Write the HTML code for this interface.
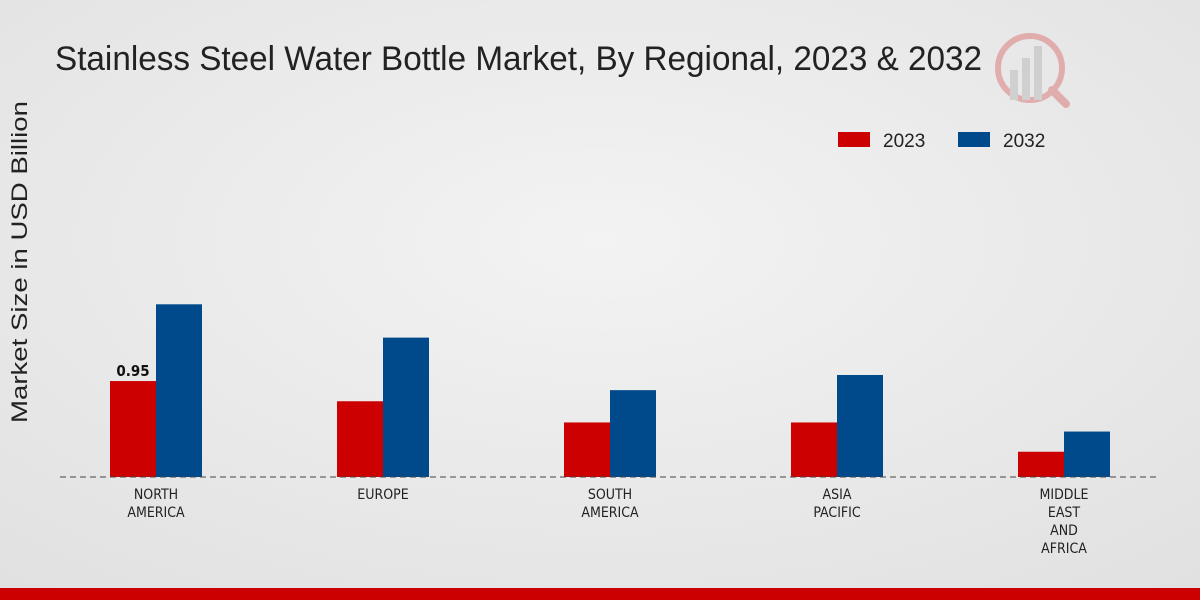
<!DOCTYPE html>
<html><head><meta charset="utf-8"><style>
body{margin:0;width:1200px;height:600px;overflow:hidden;font-family:"Liberation Sans","DejaVu Sans",sans-serif}
.tick{font-family:"DejaVu Sans Condensed","DejaVu Sans",sans-serif}
</style></head><body>
<svg id="chart" width="1200" height="600" xmlns="http://www.w3.org/2000/svg">
<defs><radialGradient id="bg" cx="0.5" cy="0.4" r="0.8"><stop offset="0" stop-color="#f3f3f3"/><stop offset="1" stop-color="#e0e0e0"/></radialGradient></defs>
<rect width="1200" height="600" fill="url(#bg)"/>
<rect x="0" y="588" width="1200" height="12" fill="#cc0000"/>
<text x="55" y="70" font-size="34" fill="#222" textLength="927" lengthAdjust="spacingAndGlyphs">Stainless Steel Water Bottle Market, By Regional, 2023 &amp; 2032</text>
<text transform="translate(27,262) rotate(-90)" text-anchor="middle" font-size="22" fill="#222" textLength="322" lengthAdjust="spacingAndGlyphs">Market Size in USD Billion</text>
<g opacity="0.25">
<circle cx="1030" cy="68" r="32" fill="none" stroke="#c00" stroke-width="6"/>
<rect x="1010" y="70" width="8" height="30" fill="#888"/><rect x="1022" y="58" width="8" height="42" fill="#888"/><rect x="1034" y="46" width="8" height="54" fill="#888"/>
<line x1="1052" y1="90" x2="1066" y2="104" stroke="#c00" stroke-width="8" stroke-linecap="round"/>
</g>
<g>
<rect x="838" y="132" width="32" height="15" fill="#cc0000"/>
<text x="883" y="147" font-size="19" fill="#222">2023</text>
<rect x="958" y="132" width="32" height="15" fill="#004a8c"/>
<text x="1003" y="147" font-size="19" fill="#222">2032</text>
</g>
<g id="marks"></g>
<line x1="60" y1="477" x2="1160" y2="477" stroke="#444" stroke-dasharray="6,4" stroke-width="1"/>
</svg>
<script>
const categories=[["NORTH","AMERICA"],["EUROPE"],["SOUTH","AMERICA"],["ASIA","PACIFIC"],["MIDDLE","EAST","AND","AFRICA"]];
const values2023=[0.95,0.75,0.54,0.54,0.25];
const values2032=[1.71,1.38,0.86,1.01,0.45];
const labelIndex=0;
const NS="http://www.w3.org/2000/svg";
const g=document.getElementById('marks');
const base=477, pxPer=101, x0=156, step=227, bw=46;
function xc(i){return x0+i*step;}
function yv(v){return base-v*pxPer;}
function mk(tag,attrs){const e=document.createElementNS(NS,tag);for(const k in attrs)e.setAttribute(k,attrs[k]);g.appendChild(e);return e;}
categories.forEach((c,i)=>{
  const r1=mk('rect',{x:xc(i)-bw,y:yv(values2023[i]),width:bw,height:values2023[i]*pxPer,fill:'#cc0000'});
  
  
  const r2=mk('rect',{x:xc(i),y:yv(values2032[i]),width:bw,height:values2032[i]*pxPer,fill:'#004a8c'});
  
  
  c.forEach((line,j)=>{
    const t=mk('text',{x:xc(i),y:499+j*18,'text-anchor':'middle','font-size':14,fill:'#222','class':'tick'});
    t.textContent=line;
    
    
  });
});
const lt=mk('text',{x:xc(labelIndex)-bw/2,y:yv(values2023[labelIndex])-5,'text-anchor':'middle','font-size':15,'font-weight':'bold',fill:'#111','class':'tick'});
lt.textContent=values2023[labelIndex].toFixed(2);


</script>
</body></html>
